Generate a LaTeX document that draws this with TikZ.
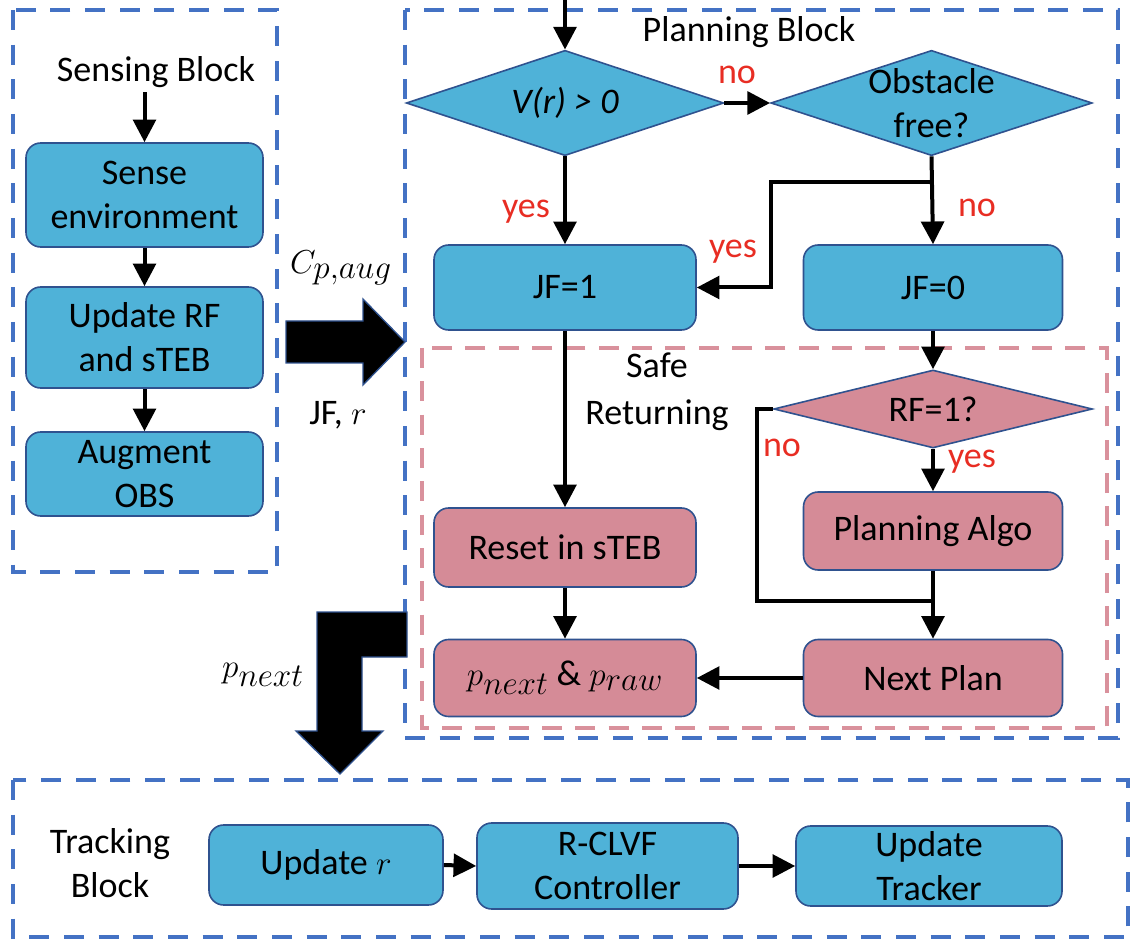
\documentclass[tikz,border=0pt]{standalone}
\usepackage{fontspec}
\setmainfont{Carlito}
\usetikzlibrary{arrows.meta,shapes.geometric}
\definecolor{boxblue}{RGB}{79,178,216}
\definecolor{boxpink}{RGB}{213,139,151}
\definecolor{edgeblue}{RGB}{47,82,143}
\definecolor{frameblue}{RGB}{68,114,196}
\definecolor{framepink}{RGB}{217,145,156}
\definecolor{lblred}{RGB}{232,45,35}
\newcommand{\dfont}{\fontsize{27}{33}\selectfont}
\newcommand{\mth}[1]{{\fontsize{33}{33}\selectfont$#1$}}
\tikzset{
  bbox/.style={draw=edgeblue, line width=1.2pt, rounded corners=11pt, fill=boxblue, align=center, inner sep=0pt},
  pinkbox/.style={bbox, fill=boxpink},
  dec/.style={diamond, draw=edgeblue, line width=1.2pt, inner sep=0pt, fill=boxblue},
  arr/.style={line width=3pt, -{Triangle[length=17pt,width=17pt]}},
  lin/.style={line width=3pt},
  lbl/.style={text=lblred},
  frameb/.style={draw=frameblue, line width=3pt, dash pattern=on 15pt off 11pt},
  framep/.style={draw=framepink, line width=2.5pt, dash pattern=on 15pt off 10pt},
  bigarr/.style={fill=black, draw=edgeblue, line width=1pt},
}
\begin{document}
\begin{tikzpicture}[x=0.75pt, y=-0.75pt, font=\dfont]
    \useasboundingbox (0,0) rectangle (1141,944);
    % frames
    \draw[frameb] (13,10) rectangle (277,572);
    \draw[frameb] (405,10) rectangle (1118,738);
    \draw[framep] (422,348) rectangle (1107,728);
    \draw[frameb] (13,780) rectangle (1128,937);

    % sensing
    \node (sensT) at (156,72) {Sensing Block};
    \node[bbox, minimum width=177.75pt, minimum height=78pt] (sense) at (144.5,195) {Sense\\environment};
    \node[bbox, minimum width=177.75pt, minimum height=75.75pt] (upd) at (144.5,337.5) {Update RF\\and sTEB};
    \node[bbox, minimum width=177.75pt, minimum height=63pt] (aug) at (144.5,474) {Augment\\OBS};
    \draw[arr] (sensT.south -| sense.north) -- (sense.north);
    \draw[arr] (sense.south) -- (upd.north);
    \draw[arr] (upd.south) -- (aug.north);

    % planning
    \node (planT) at (749,32) {Planning Block};
    \coordinate (pin) at (565,0);
    \node[dec, minimum width=238pt, minimum height=79pt,
          label={[font=\dfont\itshape]center:V(r) > 0}] (vr) at (565,103) {};
    \node[dec, minimum width=241pt, minimum height=79pt,
          label={[align=center]center:Obstacle\\free?}] (obs) at (931.5,103) {};
    \node[bbox, minimum width=196.5pt, minimum height=63.75pt] (jf1) at (565,287.5) {JF=1};
    \node[bbox, minimum width=194.25pt, minimum height=63.75pt] (jf0) at (933,287.5) {JF=0};
    \node[dec, fill=boxpink, minimum width=239pt, minimum height=58.5pt,
          label={center:RF=1?}] (rf) at (933,409) {};
    \node[pinkbox, minimum width=194.25pt, minimum height=58.5pt] (algo) at (933,531) {Planning Algo};
    \node[pinkbox, minimum width=194.25pt, minimum height=57.75pt] (nxt) at (933,678) {Next Plan};
    \node[pinkbox, minimum width=196.5pt, minimum height=59.25pt] (reset) at (565,547.5) {Reset in sTEB};
    \node[pinkbox, minimum width=196.5pt, minimum height=57.75pt] (praw) at (565,678) {\mth{p_{next}}\ \& \mth{p_{raw}}};
    \node[align=center, font=\fontsize{27}{35}\selectfont] (safeT) at (657,392) {Safe\\Returning};

    \node[lbl] (n1) at (737,75) {no};
    \node[lbl] (y1) at (526,212) {yes};
    \node[lbl] (n2) at (977,208) {no};
    \node[lbl] (y2) at (733,252) {yes};
    \node[lbl] (y3) at (972,462) {yes};
    \node[lbl] (n3) at (782,448) {no};

    \draw[arr] (pin) -- (vr.north);
    \draw[arr] (vr.east) -- (obs.west);
    \draw[arr] (vr.south) -- (jf1.north);
    \draw[arr] (obs.south) -- (jf0.north);
    \coordinate (brk) at (933,182);
    \draw[arr] (brk) -- (771,182) |- (jf1.east);
    \draw[arr] (jf0.south) -- (rf.north);
    \draw[arr] (rf.south) -- (algo.north);
    \draw[arr] (algo.south) -- (nxt.north);
    \coordinate (mrg) at (933,601);
    \draw[lin] (rf.west) -- (757,409) |- (mrg);
    \draw[arr] (jf1.south) -- (reset.north);
    \draw[arr] (reset.south) -- (praw.north);
    \draw[arr] (nxt.west) -- (praw.east);

    % block arrows between blocks
    \node (cpa) at (341,268) {\mth{C_{p,aug}}};
    \node (jfr) at (338,415) {JF, \mth{r}};
    \node (pnx) at (263,675) {\mth{p_{next}}};
    \filldraw[bigarr] (286,321) -- (363,321) -- (363,299) -- (405,342) -- (363,385) -- (363,363) -- (286,363) -- cycle;
    \filldraw[bigarr] (317,612) -- (407,612) -- (407,657) -- (362,657) -- (362,731) -- (383,731) -- (340,774) -- (296,731) -- (317,731) -- cycle;

    % tracking
    \node[align=center] (trkT) at (110,863) {Tracking\\Block};
    \node[bbox, minimum width=175.5pt, minimum height=60pt] (t1) at (326,865) {Update \mth{r}};
    \node[bbox, minimum width=195.75pt, minimum height=64.5pt] (t2) at (607.5,866) {R-CLVF\\Controller};
    \node[bbox, minimum width=199.5pt, minimum height=60pt] (t3) at (929,866) {Update\\Tracker};
    \draw[arr] (t1.east) -- (t2.west);
    \draw[arr] (t2.east) -- (t3.west);
\end{tikzpicture}
\end{document}
